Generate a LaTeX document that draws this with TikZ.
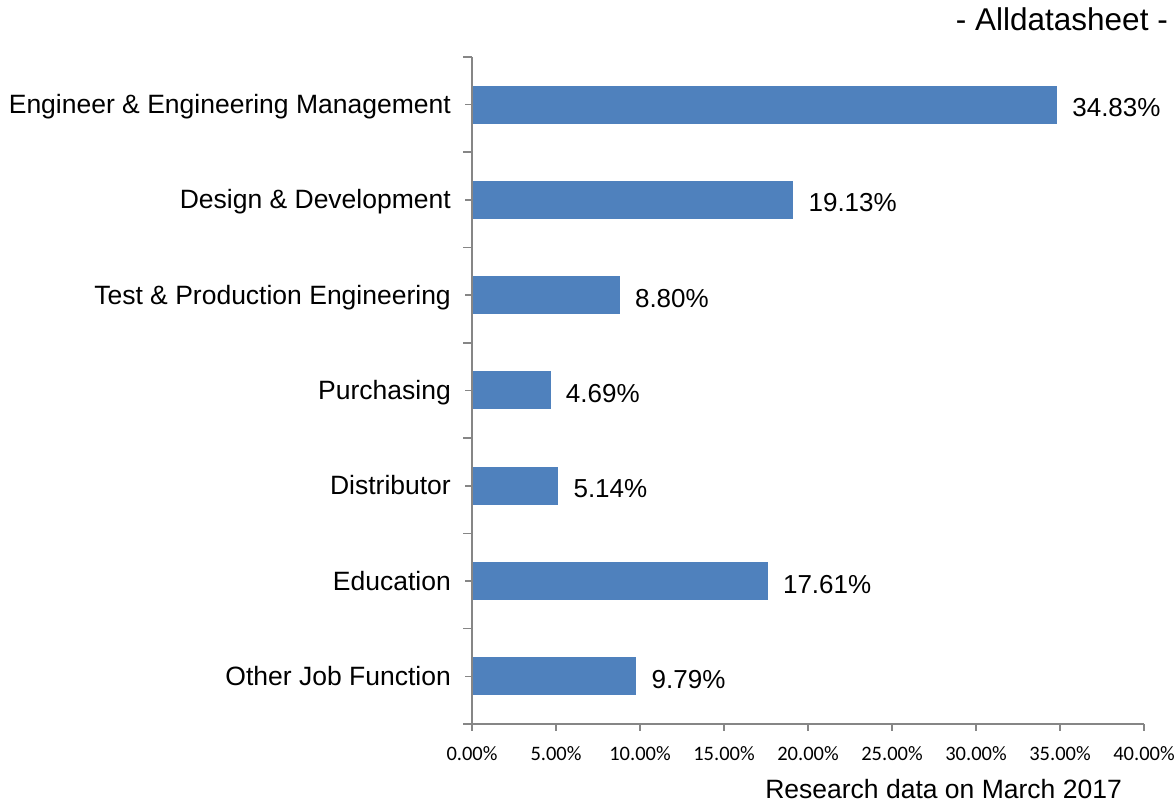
\documentclass[tikz,border=0pt]{standalone}
\usepackage{fontspec}
\setmainfont{Liberation Sans}
\newfontfamily\tickfont{Carlito}
\usetikzlibrary{calc}
\definecolor{barblue}{RGB}{79,129,189}
\definecolor{axisgray}{RGB}{134,134,134}
\tikzset{
  bar/.style={fill=barblue, draw=none},
  axisline/.style={draw=axisgray, line width=1.6pt},
  catlabel/.style={anchor=base east, inner sep=0pt, font=\fontsize{26.5}{30}\selectfont},
  vallabel/.style={anchor=base west, inner sep=0pt, font=\fontsize{26}{30}\selectfont},
  ticklabel/.style={anchor=base, inner sep=0pt, font=\tickfont\fontsize{20.5}{24}\selectfont},
}
\begin{document}
\begin{tikzpicture}[x=1pt, y=-1pt]
	\useasboundingbox (0,0) rectangle (1176,805);

	\coordinate (origin) at (472,724);
	\coordinate (ytop) at (472,57);
	\coordinate (xend) at (1144,724);

	\foreach \val/\name/\txt [count=\i from 0] in {
		34.83/Engineer \& Engineering Management/eng,
		19.13/Design \& Development/des,
		8.80/Test \& Production Engineering/tst,
		4.69/Purchasing/pur,
		5.14/Distributor/dis,
		17.61/Education/edu,
		9.79/Other Job Function/oth}
	{
		\coordinate (c-\txt) at (472,{57+95.28*(\i+0.5)});
		\path[bar] ($(c-\txt)+(0,-19)$) coordinate (b0-\txt) rectangle ++({16.8*\val},38) coordinate (b1-\txt);
		\node[catlabel] (lab-\txt) at ($(c-\txt)+(-21,9)$) {\name};
		\node[vallabel] (val-\txt) at ($(b1-\txt |- c-\txt)+(15,12)$) {\val\%};
		\draw[axisline] ($(c-\txt)+(-7,0)$) -- (c-\txt);
	}

	\foreach \k in {0,...,7}
		\draw[axisline] (463,{57+95.28*\k}) -- (472,{57+95.28*\k});

	\draw[axisline] (ytop) -- (origin) -- (xend);

	\foreach \p/\lab [count=\j from 0] in {0/0.00,5/5.00,10/10.00,15/15.00,20/20.00,25/25.00,30/30.00,35/35.00,40/40.00}
	{
		\draw[axisline] (472+16.8*\p,724) -- (472+16.8*\p,731) coordinate (t\j);
		\node[ticklabel] (tl\j) at ($(t\j)+(0,29)$) {\lab\%};
	}

	\node[anchor=base east, inner sep=0pt, font=\fontsize{31.5}{34}\selectfont] (title) at (1168,31) {- Alldatasheet -};
	\node[anchor=base east, inner sep=0pt, font=\fontsize{26.5}{30}\selectfont] (note) at (1122,798) {Research data on March 2017};
\end{tikzpicture}
\end{document}
